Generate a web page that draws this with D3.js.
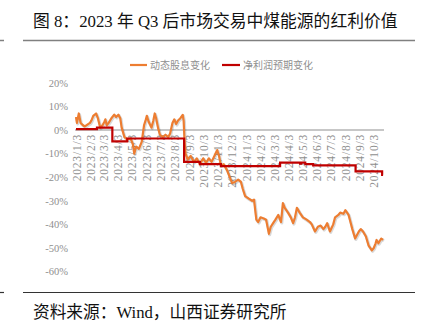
<!DOCTYPE html>
<html><head><meta charset="utf-8">
<script src="https://cdn.jsdelivr.net/npm/d3@7/dist/d3.min.js"></script>
<style>
html,body{margin:0;padding:0;background:#fff;}
svg{display:block;}
</style></head>
<body>
<svg id="c" width="427" height="332"></svg>
<script>
const titleText = "图 8：2023 年 Q3 后市场交易中煤能源的红利价值";
const sourceText = "资料来源：Wind，山西证券研究所";
const seriesNames = ["动态股息变化", "净利润预期变化"];
const yTicks = [20, 10, 0, -10, -20, -30, -40, -50, -60];
const monthLabels = ["2023/1/3","2023/2/3","2023/3/3","2023/4/3","2023/5/3","2023/6/3","2023/7/3","2023/8/3","2023/9/3","2023/10/3","2023/11/3","2023/12/3",
  "2024/1/3","2024/2/3","2024/3/3","2024/4/3","2024/5/3","2024/6/3","2024/7/3","2024/8/3","2024/9/3","2024/10/3"];

const divDates = ["2023-01-03","2023-01-05","2023-01-09","2023-01-13","2023-01-18","2023-01-22","2023-01-29","2023-02-02","2023-02-05","2023-02-09","2023-02-15","2023-02-19","2023-02-24","2023-03-01","2023-03-05","2023-03-07","2023-03-10","2023-03-14","2023-03-20","2023-03-26","2023-03-30","2023-04-04","2023-04-08","2023-04-11","2023-04-17","2023-04-23","2023-04-30","2023-05-05","2023-05-08","2023-05-12","2023-05-18","2023-05-24","2023-05-29","2023-06-02","2023-06-04","2023-06-08","2023-06-14","2023-06-18","2023-06-21","2023-06-24","2023-06-28","2023-07-02","2023-07-08","2023-07-14","2023-07-20","2023-07-24","2023-07-29","2023-08-02","2023-08-06","2023-08-10","2023-08-15","2023-08-20","2023-08-22","2023-08-24","2023-08-26","2023-08-31","2023-09-06","2023-09-13","2023-09-19","2023-09-26","2023-10-03","2023-10-09","2023-10-15","2023-10-21","2023-10-27","2023-11-02","2023-11-06","2023-11-10","2023-11-16","2023-11-23","2023-11-29","2023-12-04","2023-12-10","2023-12-17","2023-12-23","2023-12-27","2024-01-01","2024-01-08","2024-01-16","2024-01-20","2024-01-25","2024-01-29","2024-02-03","2024-02-10","2024-02-15","2024-02-21","2024-02-25","2024-03-01","2024-03-06","2024-03-12","2024-03-18","2024-03-22","2024-03-26","2024-04-02","2024-04-08","2024-04-13","2024-04-17","2024-04-21","2024-04-27","2024-05-04","2024-05-12","2024-05-19","2024-05-23","2024-05-30","2024-06-05","2024-06-11","2024-06-17","2024-06-21","2024-06-25","2024-07-01","2024-07-08","2024-07-12","2024-07-19","2024-07-23","2024-07-30","2024-08-03","2024-08-10","2024-08-14","2024-08-18","2024-08-24","2024-09-01","2024-09-05","2024-09-10","2024-09-16","2024-09-22","2024-09-29","2024-10-03","2024-10-07","2024-10-09","2024-10-13","2024-10-19","2024-10-23"];
const divValues = [5.5,3,7,3,2,1.5,2.5,3,4,6,7,5,1,2,3.5,4.5,2,3,5,6.5,5.5,6.5,5,1,-3,-4,-3.5,-6,-10,-7,-8,-5,2,4.5,6,3.5,1,4,7,5,1,-2,-3,-2,-3,-1.5,3,4.5,2.5,4,5,6.4,4,-5,-10,-12.5,-11,-13.5,-12,-14.5,-12,-14,-12,-13.5,-11,-8.5,-11,-15,-14.5,-17,-20,-22.5,-22,-21,-22,-25,-28,-29,-30,-29.5,-38,-39,-37,-37.5,-38,-44,-41,-39.5,-38,-36,-39,-31,-33,-35,-37,-39.5,-37,-33,-35,-37,-38,-39,-40,-43,-41,-40.5,-42,-41,-39.5,-43,-40,-37,-36,-35,-35.5,-34,-36,-39,-42,-46,-43,-42,-43,-45,-49,-51,-50,-48,-46.6,-48,-46,-46.6];

const npDates = ["2023-01-03","2023-02-17","2023-03-22","2023-04-23","2023-08-23","2023-09-26","2023-11-10","2024-03-16","2024-04-28","2024-04-30","2024-05-09","2024-05-26","2024-08-25","2024-10-21","2024-10-23"];
const npValues = [0.4,1,-4.8,-3.6,-13.5,-14.5,-15.3,-13.8,-14.3,-13.8,-14.5,-15,-17.5,-19,-19];

const parse = d3.timeParse("%Y-%m-%d");
const parseLbl = d3.timeParse("%Y/%m/%d");
const svg = d3.select("#c");
const serif = "'Liberation Serif','Times New Roman','Noto Sans CJK SC',serif";
const cjk = "'Liberation Serif','Noto Sans CJK SC',sans-serif";

// title & rules
svg.append("text").attr("x", 33).attr("y", 27).attr("font-family", cjk).attr("font-size", 16.8).attr("fill", "#111").text(titleText);
svg.append("line").attr("x1", 23).attr("x2", 415).attr("y1", 40.5).attr("y2", 40.5).attr("stroke", "#808080").attr("stroke-width", 1.5);
svg.append("line").attr("x1", 0).attr("x2", 4).attr("y1", 40.5).attr("y2", 40.5).attr("stroke", "#808080").attr("stroke-width", 1.5);
svg.append("line").attr("x1", 23).attr("x2", 415).attr("y1", 292.5).attr("y2", 292.5).attr("stroke", "#333").attr("stroke-width", 1.2);
svg.append("line").attr("x1", 0).attr("x2", 4).attr("y1", 292.5).attr("y2", 292.5).attr("stroke", "#333").attr("stroke-width", 1.2);
svg.append("text").attr("x", 33).attr("y", 318).attr("font-family", cjk).attr("font-size", 16.7).attr("fill", "#111").text(sourceText);

const x = d3.scaleTime().domain([parse("2023-01-03"), parse("2024-10-25")]).range([76, 384]);
const y = d3.scaleLinear().domain([-60, 20]).range([271.6, 82.8]);

// y axis labels
const yAxis = d3.axisLeft(y).tickValues(yTicks).tickSize(0).tickPadding(0).tickFormat(d => d + "%");
const gy = svg.append("g").attr("transform", "translate(68,0)").call(yAxis);
gy.select(".domain").remove();
gy.selectAll("text").attr("font-family", serif).attr("font-size", 10.5).attr("fill", "#8f8f8f");

// x axis at zero
const xAxis = d3.axisBottom(x).tickValues(monthLabels.map(s => parseLbl(s))).tickSize(0).tickFormat((d, i) => monthLabels[i]);
const gx = svg.append("g").attr("transform", `translate(0,${y(0)})`).call(xAxis);
gx.select(".domain").remove();
gx.selectAll("text").attr("font-family", serif).attr("font-size", 11.5).attr("fill", "#8f8f8f")
  .attr("letter-spacing", 0.8)
  .attr("text-anchor", "end").attr("dy", "0.35em")
  .attr("transform", "translate(0,4) rotate(-90)").attr("x", 0).attr("y", 0);
svg.append("line").attr("x1", 75).attr("x2", 384).attr("y1", y(0)).attr("y2", y(0)).attr("stroke", "#b4b4b4").attr("stroke-width", 1.6);

// series
const divData = divDates.map((d, i) => [parse(d), divValues[i]]);
const npData = npDates.map((d, i) => [parse(d), npValues[i]]);
const line = d3.line().x(d => x(d[0])).y(d => y(d[1]));
const stepLine = d3.line().x(d => x(d[0])).y(d => y(d[1])).curve(d3.curveStepAfter);

svg.append("path").attr("d", line(divData)).attr("fill", "none").attr("stroke", "#000").attr("stroke-opacity", 0.15)
  .attr("stroke-width", 3).attr("transform", "translate(0.8,1)").attr("stroke-linejoin", "round");
svg.append("path").attr("d", line(divData)).attr("fill", "none").attr("stroke", "#ED7D31").attr("stroke-width", 2.2).attr("stroke-linejoin", "round");
svg.append("path").attr("d", stepLine(npData)).attr("fill", "none").attr("stroke", "#C00000").attr("stroke-width", 2.2);

// legend
const leg = [{name: seriesNames[0], color: "#ED7D31", x1: 130, x2: 147, tx: 150},
             {name: seriesNames[1], color: "#C00000", x1: 222, x2: 240, tx: 243}];
leg.forEach(l => {
  svg.append("line").attr("x1", l.x1).attr("x2", l.x2).attr("y1", 65).attr("y2", 65).attr("stroke", l.color).attr("stroke-width", 2.2);
  svg.append("text").attr("x", l.tx).attr("y", 65).attr("dy", "0.35em").attr("font-family", cjk).attr("font-size", 10).attr("fill", "#8f8f8f").text(l.name);
});
</script>
</body></html>
